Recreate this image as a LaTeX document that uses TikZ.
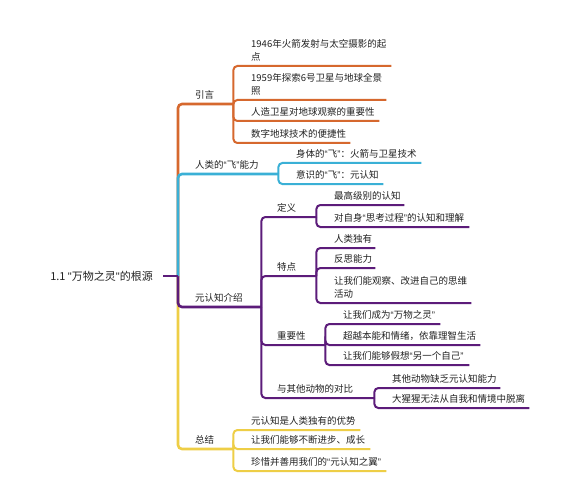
\documentclass[tikz,border=0pt]{standalone}
\usepackage{fontspec}
\setmainfont{Noto Sans CJK SC}
\newfontfamily\quotefont[Ligatures=TeXOff]{Liberation Sans}
\newcommand\qo{{\quotefont “}}
\newcommand\qc{{\quotefont ”}}
\newcommand\qs{{\quotefont "}}
\definecolor{mmorange}{RGB}{214,104,46}
\definecolor{mmblue}{RGB}{58,176,214}
\definecolor{mmpurple}{RGB}{92,28,122}
\definecolor{mmyellow}{RGB}{238,206,70}
\definecolor{mmtext}{RGB}{34,34,34}

\begin{document}
\begin{tikzpicture}[x=1pt, y=-1pt,
  topic/.style={anchor=south west, inner xsep=0pt, inner ysep=1pt, align=left,
    text=mmtext, font=\fontsize{9.5}{13}\selectfont, execute at end node=\strut},
  trunk/.style={line width=2.6pt, rounded corners=4pt},
  twig/.style={line width=2pt, rounded corners=4pt}
]
\useasboundingbox[fill=white] (0,0) rectangle (565,500);

\node[anchor=east, inner xsep=10pt, text=mmtext, font=\fontsize{11}{13}\selectfont] (root) at (163,276) {1.1 \qs 万物之灵\qs 的根源};
\coordinate (hub) at (178,276);

\node[topic, text width=38pt] (yy) at (195,104) {引言};
\node[topic, text width=83pt] (fei) at (195,174) {人类的\qo 飞\qc 能力};
\node[topic, text width=66pt] (yrz) at (195,307) {元认知介绍};
\node[topic, text width=38pt] (zj) at (195,449) {总结};

\node[topic, text width=140pt] (yy1) at (251,66) {1946年火箭发射与太空摄影的起\\点};
\node[topic, text width=135pt] (yy2) at (251,100) {1959年探索6号卫星与地球全景\\照};
\node[topic, text width=128pt] (yy3) at (251,121) {人造卫星对地球观察的重要性};
\node[topic, text width=99pt] (yy4) at (251,143) {数字地球技术的便捷性};

\node[topic, text width=125pt] (fei1) at (296,163) {身体的\qo 飞\qc ：火箭与卫星技术};
\node[topic, text width=87pt] (fei2) at (296,184) {意识的\qo 飞\qc ：元认知};

\node[topic, text width=39pt] (dy) at (277,217) {定义};
\node[topic, text width=39pt] (td) at (277,276) {特点};
\node[topic, text width=48pt] (zyx) at (277,345) {重要性};
\node[topic, text width=97pt] (db) at (277,398) {与其他动物的对比};

\node[topic, text width=70pt] (dy1) at (334,205) {最高级别的认知};
\node[topic, text width=135pt] (dy2) at (334,227) {对自身\qo 思考过程\qc 的认知和理解};
\node[topic, text width=41pt] (td1) at (334,248) {人类独有};
\node[topic, text width=41pt] (td2) at (334,268) {反思能力};
\node[topic, text width=137pt] (td3) at (334,303) {让我们能观察、改进自己的思维\\活动};
\node[topic, text width=97pt] (zyx1) at (343,324) {让我们成为\qo 万物之灵\qc};
\node[topic, text width=137pt] (zyx2) at (343,345) {超越本能和情绪，依靠理智生活};
\node[topic, text width=126pt] (zyx3) at (343,365) {让我们能够假想\qo 另一个自己\qc};
\node[topic, text width=108pt] (db1) at (392,388) {其他动物缺乏元认知能力};
\node[topic, text width=137pt] (db2) at (392,408) {大猩猩无法从自我和情境中脱离};

\node[topic, text width=109pt] (zj1) at (251,430) {元认知是人类独有的优势};
\node[topic, text width=119pt] (zj2) at (251,449) {让我们能够不断进步、成长};
\node[topic, text width=135pt] (zj3) at (251,471) {珍惜并善用我们的\qo 元认知之翼\qc};

% trunk
\draw[trunk, mmyellow] (hub) |- (zj.south west) -- (zj.south east);
\draw[trunk, mmpurple] (hub) |- (yrz.south west) -- (yrz.south east);
\draw[trunk, mmorange] (hub) |- (yy.south west) -- (yy.south east);
\draw[trunk, mmblue] (hub) |- (fei.south west) -- (fei.south east);
\draw[trunk, mmpurple] (root.east) -- (hub);

% branches
\foreach \c in {yy1,yy2,yy3,yy4}
  \draw[twig, mmorange] (yy.south east) |- (\c.south west) -- (\c.south east);
\foreach \c in {fei1,fei2}
  \draw[twig, mmblue] (fei.south east) |- (\c.south west) -- (\c.south east);
\foreach \c in {dy,td,zyx,db}
  \draw[twig, mmpurple] (yrz.south east) |- (\c.south west) -- (\c.south east);
\foreach \c in {dy1,dy2}
  \draw[twig, mmpurple] (dy.south east) |- (\c.south west) -- (\c.south east);
\foreach \c in {td1,td2,td3}
  \draw[twig, mmpurple] (td.south east) |- (\c.south west) -- (\c.south east);
\foreach \c in {zyx1,zyx2,zyx3}
  \draw[twig, mmpurple] (zyx.south east) |- (\c.south west) -- (\c.south east);
\foreach \c in {db1,db2}
  \draw[twig, mmpurple] (db.south east) |- (\c.south west) -- (\c.south east);
\foreach \c in {zj1,zj2,zj3}
  \draw[twig, mmyellow] (zj.south east) |- (\c.south west) -- (\c.south east);
\end{tikzpicture}
\end{document}
